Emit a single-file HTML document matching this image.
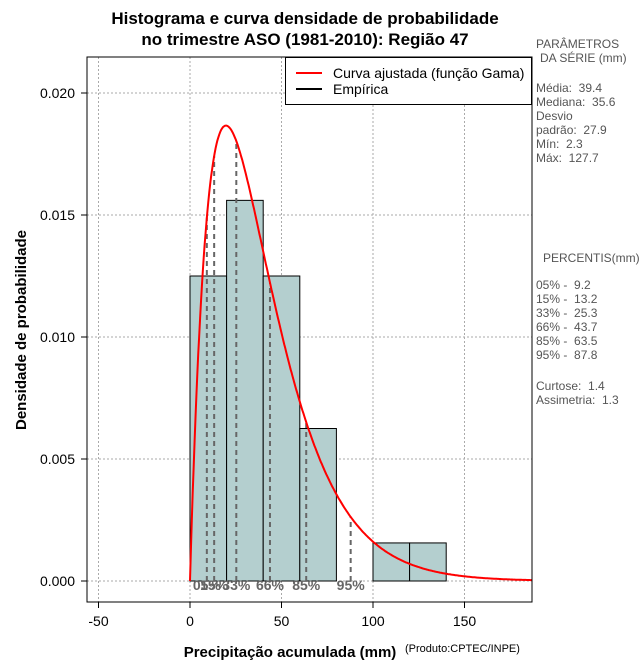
<!DOCTYPE html>
<html><head><meta charset="utf-8"><style>
body{margin:0;background:#fff;}
svg{display:block;font-family:"Liberation Sans",sans-serif;}
.st text{white-space:pre;}
</style></head><body>
<svg id="c" width="640" height="660" viewBox="0 0 640 660" xmlns="http://www.w3.org/2000/svg">
<rect width="640" height="660" fill="#fff"/>
<text x="305" y="24" text-anchor="middle" font-size="17" font-weight="bold">Histograma e curva densidade de probabilidade</text>
<text x="305" y="45" text-anchor="middle" font-size="17" font-weight="bold">no trimestre ASO (1981-2010): Região 47</text>
<text x="290" y="657" text-anchor="middle" font-size="15" font-weight="bold">Precipitação acumulada (mm)</text>
<text x="405" y="652" font-size="11">(Produto:CPTEC/INPE)</text>
<text transform="translate(26,330) rotate(-90)" text-anchor="middle" font-size="15" font-weight="bold">Densidade de probabilidade</text>
<g id="grid"></g>
<defs><clipPath id="clip"><rect x="87" y="57" width="445" height="545"/></clipPath></defs>
<g id="bars"></g>
<g id="pct" clip-path="url(#clip)"></g>
<g id="curve" clip-path="url(#clip)"></g>
<g id="ticks"></g>
<rect x="87" y="57" width="445" height="545" fill="none" stroke="#000" stroke-width="1"/>
<g>
<rect x="285.5" y="57.5" width="246" height="47" fill="#fff" stroke="#000"/>
<line x1="296" y1="73" x2="322" y2="73" stroke="#f00" stroke-width="2"/>
<text x="333" y="78" font-size="14">Curva ajustada (função Gama)</text>
<line x1="296" y1="89" x2="322" y2="89" stroke="#000" stroke-width="2"/>
<text x="333" y="94" font-size="14">Empírica</text>
</g>
<g class="st" font-size="12" fill="#555">
<text x="536" y="48">PARÂMETROS</text>
<text x="540" y="62">DA SÉRIE (mm)</text>
<text x="536" y="92">Média:  39.4</text>
<text x="536" y="106">Mediana:  35.6</text>
<text x="536" y="120">Desvio</text>
<text x="536" y="134">padrão:  27.9</text>
<text x="536" y="148">Mín:  2.3</text>
<text x="536" y="162">Máx:  127.7</text>
<text x="543" y="262">PERCENTIS(mm)</text>
<text x="536" y="289">05% -  9.2</text>
<text x="536" y="303">15% -  13.2</text>
<text x="536" y="317">33% -  25.3</text>
<text x="536" y="331">66% -  43.7</text>
<text x="536" y="345">85% -  63.5</text>
<text x="536" y="359">95% -  87.8</text>
<text x="536" y="390">Curtose:  1.4</text>
<text x="536" y="404">Assimetria:  1.3</text>
</g>
</svg>
<script>
const binEdges=[0,20,40,60,80,100,120,140];
const binDensity=[0.0125,0.0156,0.0125,0.00625,0,0.00156,0.00156];
const xTicks=[-50,0,50,100,150];
const yTicks=[0,0.005,0.010,0.015,0.020];
const yTickLabels=["0.000","0.005","0.010","0.015","0.020"];
const pctValues=[9.2,13.2,25.3,43.7,63.5,87.8];
const pctLabels=["05%","15%","33%","66%","85%","95%"];
const gammaMean=39.4;
const gammaSd=27.9;

const NS="http://www.w3.org/2000/svg";
const X=v=>190+v*1.83;
const Y=v=>581-v*24400;
function mk(tag,attrs,parent,text){const e=document.createElementNS(NS,tag);for(const k in attrs)e.setAttribute(k,attrs[k]);if(text!==undefined)e.textContent=text;document.getElementById(parent).appendChild(e);return e;}
const k=(gammaMean/gammaSd)**2, th=gammaSd*gammaSd/gammaMean;
function lg(z){const g=[676.5203681218851,-1259.1392167224028,771.32342877765313,-176.61502916214059,12.507343278686905,-0.13857109526572012,9.9843695780195716e-6,1.5056327351493116e-7];let x=0.99999999999980993;for(let i=0;i<8;i++)x+=g[i]/(z+i);const t=z+6.5;return 0.5*Math.log(2*Math.PI)+(z-0.5)*Math.log(t)-t+Math.log(x);}
const dens=x=>x<=0?0:Math.exp((k-1)*Math.log(x)-x/th-k*Math.log(th)-lg(k));

xTicks.forEach(t=>{
 const l=mk('line',{x1:X(t),x2:X(t),y1:57,y2:602,stroke:'#aaa','stroke-dasharray':'2,2'},'grid');
 
 mk('line',{x1:X(t),x2:X(t),y1:602,y2:608,stroke:'#000'},'ticks');
 const tx=mk('text',{x:X(t),y:626,'text-anchor':'middle','font-size':14},'ticks',String(t));
 
});
yTicks.forEach((t,i)=>{
 const l=mk('line',{x1:87,x2:532,y1:Y(t),y2:Y(t),stroke:'#aaa','stroke-dasharray':'2,2'},'grid');
 
 mk('line',{x1:81,x2:87,y1:Y(t),y2:Y(t),stroke:'#000'},'ticks');
 const tx=mk('text',{x:75,y:Y(t)+5,'text-anchor':'end','font-size':14},'ticks',yTickLabels[i]);
 
});
binDensity.forEach((d,i)=>{
 if(d<=0)return;
 const r=mk('rect',{x:X(binEdges[i]),y:Y(d),width:X(binEdges[i+1])-X(binEdges[i]),height:Y(0)-Y(d),fill:'#b4cfcf',stroke:'#000','stroke-width':1},'bars');
 
});
pctValues.forEach((p,i)=>{
 const l=mk('line',{x1:X(p),x2:X(p),y1:Y(0),y2:Y(dens(p)),stroke:'#666','stroke-width':2,'stroke-dasharray':'5,4'},'pct');
 
 const t=mk('text',{x:X(p),y:590,'text-anchor':'middle','font-size':14,'font-weight':'bold',fill:'#666'},'pct',pctLabels[i]);
 
});
let d='';
for(let x=0;x<=200;x+=0.5){d+=(x?'L':'M')+X(x).toFixed(1)+','+Y(dens(x)).toFixed(1);}
const c=mk('path',{d:d,fill:'none',stroke:'#f00','stroke-width':2},'curve');

</script>
</body></html>
